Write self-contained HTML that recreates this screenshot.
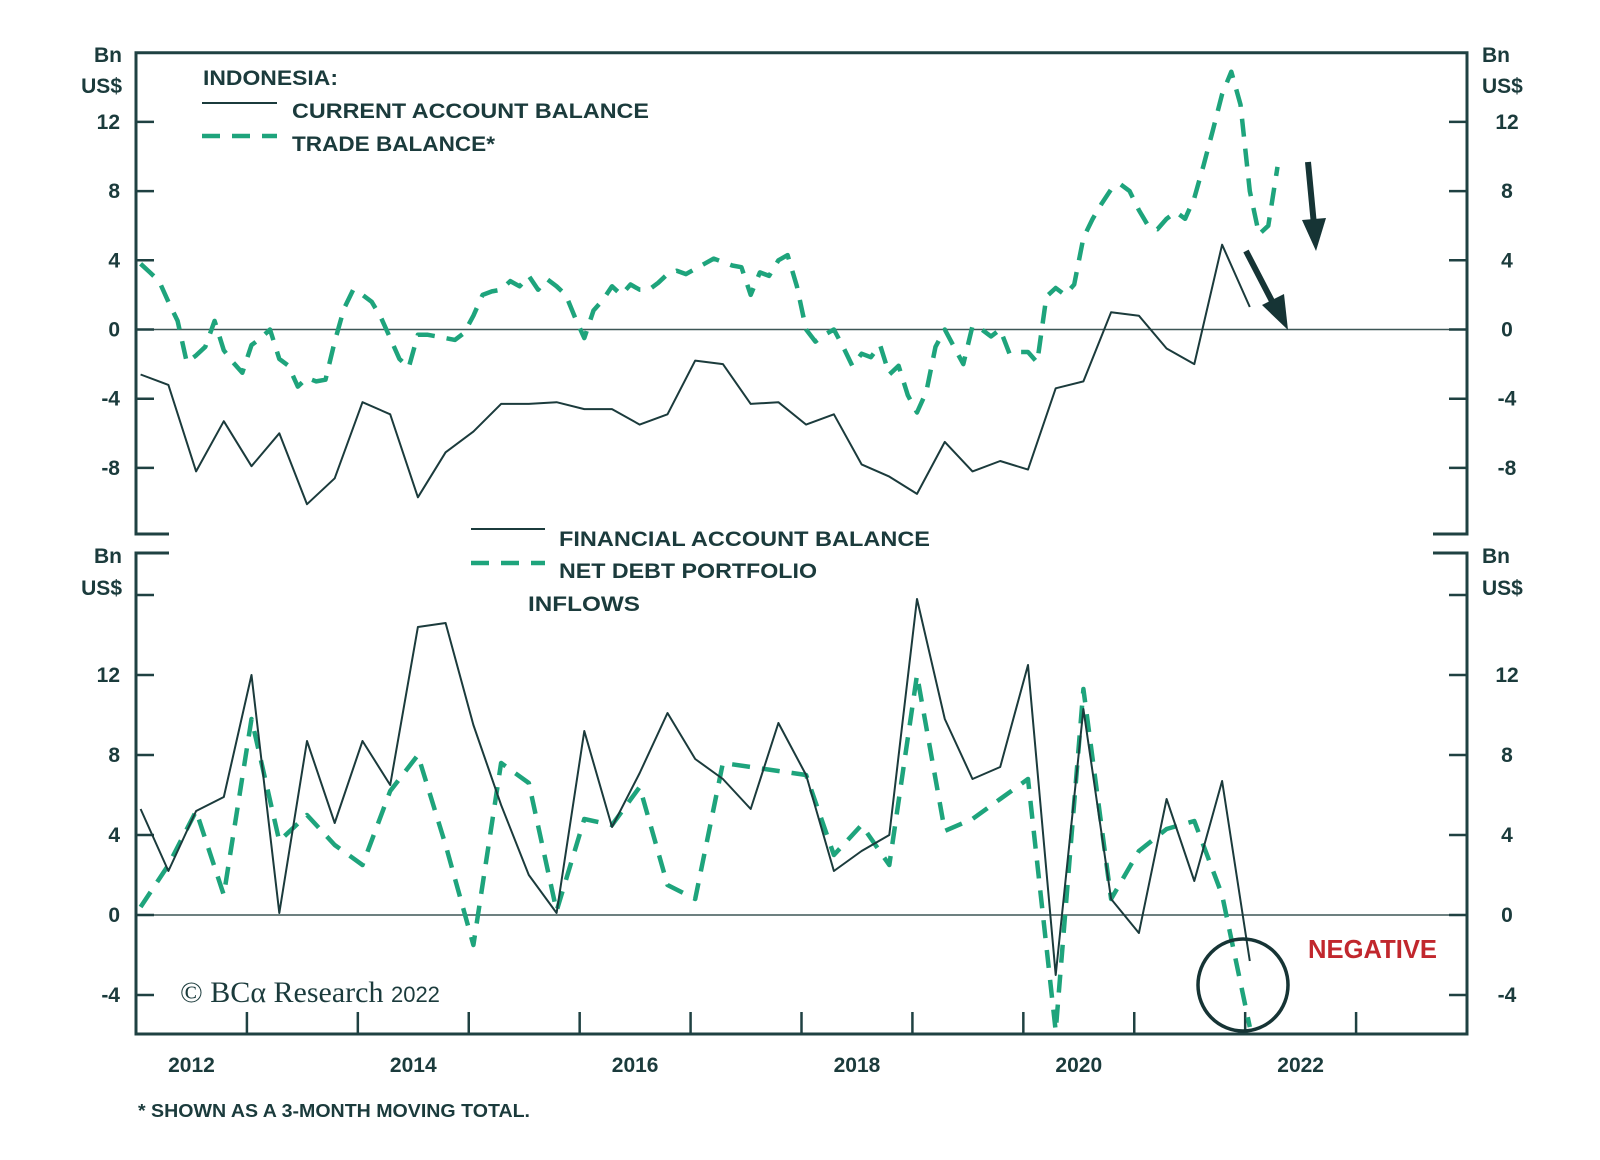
<!DOCTYPE html>
<html><head><meta charset="utf-8"><style>
html,body{margin:0;padding:0;background:#fff;}
svg{display:block;font-family:"Liberation Sans",sans-serif;}
.lab{font-weight:bold;fill:#1b3b3c;font-size:21px;}
</style></head><body>
<svg id="chart" width="1600" height="1160" viewBox="0 0 1600 1160" xmlns="http://www.w3.org/2000/svg">
<g id="frame" stroke="#1f4142" stroke-width="3" fill="none">
  <path d="M169,534 L136,534 L136,52.7 L1467,52.7 L1467,534 L1433,534"/>
  <path d="M169,553 L136,553 L136,1034 L1467,1034 L1467,553 L1433,553"/>
</g>
<g id="axes"></g>
<g id="series"></g>
<g>
  <text class="lab" x="203" y="85" textLength="135" lengthAdjust="spacingAndGlyphs">INDONESIA:</text>
  <line x1="202" y1="103" x2="277" y2="103" stroke="#1b3b3c" stroke-width="2"/>
  <text class="lab" x="292" y="118" textLength="357" lengthAdjust="spacingAndGlyphs">CURRENT ACCOUNT BALANCE</text>
  <line x1="202" y1="136" x2="277" y2="136" stroke="#1ea47c" stroke-width="4.5" stroke-dasharray="18,12"/>
  <text class="lab" x="292" y="151" textLength="203" lengthAdjust="spacingAndGlyphs">TRADE BALANCE*</text>
</g>
<g>
  <line x1="471" y1="529" x2="545" y2="529" stroke="#1b3b3c" stroke-width="2"/>
  <text class="lab" x="559" y="546" textLength="371" lengthAdjust="spacingAndGlyphs">FINANCIAL ACCOUNT BALANCE</text>
  <line x1="471" y1="563" x2="545" y2="563" stroke="#1ea47c" stroke-width="4.5" stroke-dasharray="18,12"/>
  <text class="lab" x="559" y="578" textLength="258" lengthAdjust="spacingAndGlyphs">NET DEBT PORTFOLIO</text>
  <text class="lab" x="528" y="611" textLength="112" lengthAdjust="spacingAndGlyphs">INFLOWS</text>
</g>
<g>
  <line x1="1308" y1="162" x2="1314" y2="225" stroke="#163435" stroke-width="6"/>
  <polygon points="1302,220 1326,218 1316,251" fill="#163435"/>
  <line x1="1246" y1="251" x2="1274" y2="305" stroke="#163435" stroke-width="6"/>
  <polygon points="1262,305 1284,294 1288,330" fill="#163435"/>
  <ellipse cx="1243" cy="985" rx="45" ry="46" fill="none" stroke="#163435" stroke-width="3.5"/>
  <text x="1308" y="958" font-size="26" font-weight="bold" fill="#c1272d" textLength="129" lengthAdjust="spacingAndGlyphs">NEGATIVE</text>
  <text x="180" y="1002" font-family="Liberation Serif,serif" font-size="30" fill="#1b3b3c">© BCα Research <tspan font-family="Liberation Sans,sans-serif" font-size="22">2022</tspan></text>
  <text x="138" y="1117" font-size="18" font-weight="bold" fill="#1b3b3c" textLength="392" lengthAdjust="spacingAndGlyphs">* SHOWN AS A 3-MONTH MOVING TOTAL.</text>
</g>
</svg>
<script>
const yearLabels=["2012","2014","2016","2018","2020","2022"];
const topTicks=[12,8,4,0,-4,-8];
const bottomTicks=[16,12,8,4,0,-4];
const tradeStart=[2012,1.5];
const tradeBalance=[3.8,3.3,2.8,1.6,0.5,-1.9,-1.5,-1.0,0.5,-1.2,-1.9,-2.5,-0.9,-0.5,0.0,-1.7,-2.1,-3.3,-2.8,-3.0,-2.9,-0.7,1.2,2.3,2.0,1.6,0.7,-0.5,-1.7,-2.2,-0.3,-0.3,-0.4,-0.5,-0.6,-0.2,0.8,2.0,2.2,2.3,2.8,2.5,3.1,2.3,2.9,2.5,2.0,0.7,-0.5,1.1,1.7,2.5,2.0,2.6,2.3,2.3,2.7,3.2,3.4,3.2,3.5,3.8,4.1,3.9,3.7,3.6,2.0,3.3,3.1,4.0,4.3,2.5,0.0,-0.7,-0.3,0.0,-1.0,-2.1,-1.4,-1.6,-0.9,-2.6,-2.1,-3.8,-4.8,-3.6,-1.0,0.0,-1.0,-2.0,0.2,0.0,-0.4,0.0,-1.4,-1.3,-1.3,-1.9,1.9,2.4,2.0,2.6,5.3,6.4,7.3,8.1,8.4,8.0,6.9,6.0,5.8,6.4,6.8,6.4,7.6,9.5,11.5,13.6,14.9,13.0,8.0,5.5,6.0,9.4];
const currentAccount=[-2.6,-3.2,-8.2,-5.3,-7.9,-6.0,-10.1,-8.6,-4.2,-4.9,-9.7,-7.1,-5.9,-4.3,-4.3,-4.2,-4.6,-4.6,-5.5,-4.9,-1.8,-2.0,-4.3,-4.2,-5.5,-4.9,-7.8,-8.5,-9.5,-6.5,-8.2,-7.6,-8.1,-3.4,-3.0,1.0,0.8,-1.1,-2.0,4.9,1.3];
const financialAccount=[5.3,2.2,5.2,5.9,12.0,0.1,8.7,4.6,8.7,6.5,14.4,14.6,9.5,5.5,2.0,0.1,9.2,4.4,7.1,10.1,7.8,6.8,5.3,9.6,7.0,2.2,3.2,4.0,15.8,9.8,6.8,7.4,12.5,-3.0,10.3,0.8,-0.9,5.8,1.7,6.7,-2.3];
const netDebtInflows=[0.4,2.5,5.2,1.0,9.8,3.7,5.0,3.5,2.5,6.2,8.0,3.5,-1.5,7.6,6.6,0.2,4.8,4.5,6.4,1.5,0.8,7.6,7.4,7.2,7.0,3.0,4.5,2.5,12.0,4.2,4.8,5.8,6.8,-5.8,11.3,0.8,3.2,4.3,4.7,1.0,-5.6];

const NS="http://www.w3.org/2000/svg";
const X0=136,X1=1467,T0=2012,T1=2024;
function xOf(t){return X0+(t-T0)*(X1-X0)/(T1-T0);}
function yTop(v){return 329.5-v*17.3;}
function yBot(v){return 915-v*20;}
function monthT(m){return tradeStart[0]+(tradeStart[1]-1+m)/12;}
function mk(tag,attrs,parent){const e=document.createElementNS(NS,tag);for(const k in attrs)e.setAttribute(k,attrs[k]);parent.appendChild(e);return e;}
const axes=document.getElementById('axes');
const series=document.getElementById('series');
const C="#1f4142";
let z=mk('line',{x1:X0,x2:X1,y1:yTop(0),y2:yTop(0),stroke:"#3d5656","stroke-width":1.6},axes);


z=mk('line',{x1:X0,x2:X1,y1:yBot(0),y2:yBot(0),stroke:"#3d5656","stroke-width":1.6},axes);


function yTicks(vals,yf,panel){
  vals.forEach(v=>{
    const y=yf(v);
    let l=mk('line',{x1:X0,x2:X0+18,y1:y,y2:y,stroke:C,"stroke-width":2.5},axes);
    
    
    l=mk('line',{x1:X1-18,x2:X1,y1:y,y2:y,stroke:C,"stroke-width":2.5},axes);
    
    
    if(v===16)return;
    let t=mk('text',{x:120,y:y+7,"text-anchor":"end",class:"lab"},axes);t.textContent=String(v);
    
    
    t=mk('text',{x:1507,y:y+7,"text-anchor":"middle",class:"lab"},axes);t.textContent=String(v);
    
    
  });
}
yTicks(topTicks,yTop,'top');
yTicks(bottomTicks,yBot,'bottom');
function unit(y1,y2,xl,xr,p){
  [[xl,'end'],[xr,'start']].forEach(([x,a],k)=>{
    let t=mk('text',{x:x,y:y1,"text-anchor":a,class:"lab"},axes);t.textContent="Bn";
    
    
    t=mk('text',{x:x,y:y2,"text-anchor":a,class:"lab"},axes);t.textContent="US$";
    
    
  });
}
unit(62,93,122,1482,'top');
unit(563,595,122,1482,'bottom');
for(let yr=T0+1;yr<T1;yr++){
  const l=mk('line',{x1:xOf(yr),x2:xOf(yr),y1:1034,y2:1012,stroke:C,"stroke-width":2.5},axes);
  
  
}
yearLabels.forEach(s=>{
  const t=mk('text',{x:xOf(+s+0.5),y:1072,"text-anchor":"middle",class:"lab"},axes);t.textContent=s;
  
  
});
function path(vals,tf,yf,dashed,name){
  const d=vals.map((v,i)=>(i?'L':'M')+xOf(tf(i)).toFixed(1)+','+yf(v).toFixed(1)).join(' ');
  const p=mk('path',{d:d,fill:"none",stroke:dashed?"#1ea47c":"#1b3b3c","stroke-width":dashed?4.5:2,"stroke-dasharray":dashed?"18,12":"none","stroke-linejoin":"round"},series);
  
  
}
path(tradeBalance,monthT,yTop,true,'trade-balance-line');
path(currentAccount,i=>monthT(3*i),yTop,false,'current-account-line');
path(netDebtInflows,i=>monthT(3*i),yBot,true,'net-debt-inflows-line');
path(financialAccount,i=>monthT(3*i),yBot,false,'financial-account-line');
</script>
</body></html>
